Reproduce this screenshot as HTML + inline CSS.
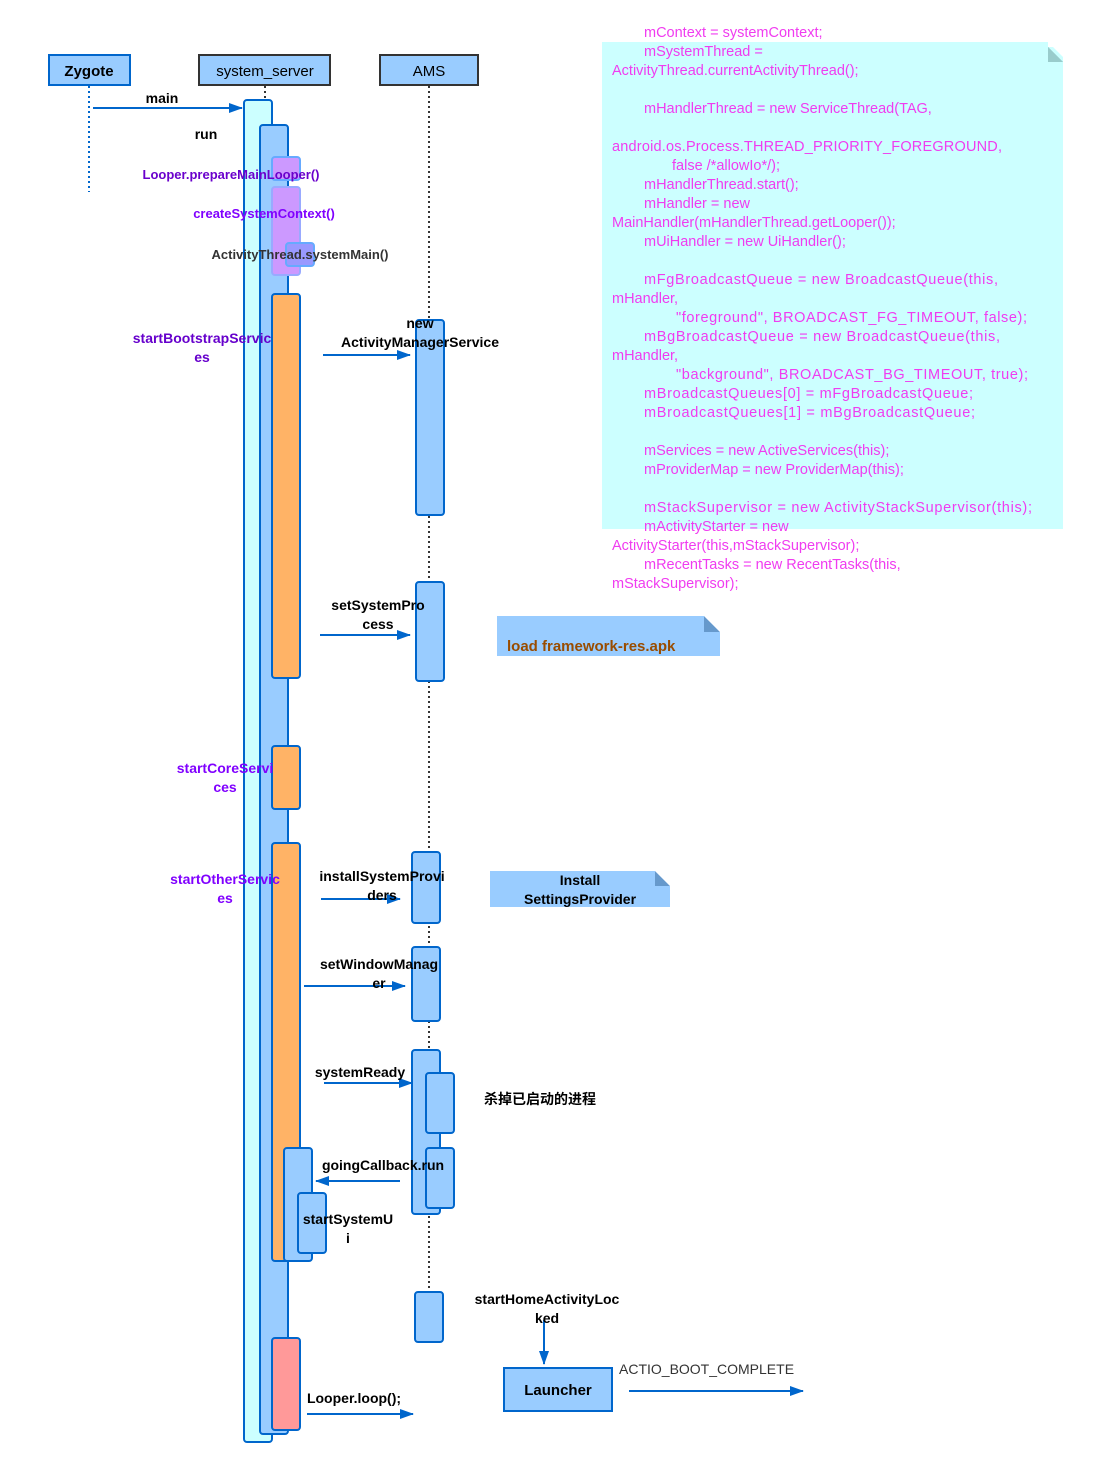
<!DOCTYPE html>
<html><head><meta charset="utf-8"><style>
html,body{margin:0;padding:0;background:#fff}
svg{display:block}
text{font-family:"Liberation Sans","Noto Sans CJK SC",sans-serif}
.b{font-weight:bold;font-size:14px;fill:#000}
.p{font-weight:bold;font-size:14px;fill:#7a00e6}
.c{font-size:14.5px;fill:#f03cf0}
</style></head><body>
<svg width="1095" height="1475" viewBox="0 0 1095 1475" xmlns="http://www.w3.org/2000/svg">
<defs>
<marker id="ar" markerWidth="14" markerHeight="10" refX="13" refY="5" orient="auto" markerUnits="userSpaceOnUse">
<path d="M0,0 L14,5 L0,10 Z" fill="#0066cc"/></marker>
</defs>
<!-- note -->
<rect x="602" y="42" width="461" height="487" fill="#ccffff"/>
<path d="M1048,47 L1063,62 L1048,62 Z" fill="#99cccc"/>
<rect x="1048" y="42" width="15" height="5" fill="#fff"/>
<path d="M1048,42 L1063,57 L1063,42 Z" fill="#fff"/>
<path d="M1048,47 L1048,62 L1063,62 Z" fill="#99cccc"/>
<g class="c">
<text x="644" y="37">mContext = systemContext;</text>
<text x="644" y="56">mSystemThread =</text>
<text x="612" y="75">ActivityThread.currentActivityThread();</text>
<text x="644" y="113">mHandlerThread = new ServiceThread(TAG,</text>
<text x="612" y="151" textLength="390">android.os.Process.THREAD_PRIORITY_FOREGROUND,</text>
<text x="672" y="170">false /*allowIo*/);</text>
<text x="644" y="189">mHandlerThread.start();</text>
<text x="644" y="208">mHandler = new</text>
<text x="612" y="227">MainHandler(mHandlerThread.getLooper());</text>
<text x="644" y="246">mUiHandler = new UiHandler();</text>
<text x="644" y="284" textLength="354">mFgBroadcastQueue = new BroadcastQueue(this,</text>
<text x="612" y="303">mHandler,</text>
<text x="676" y="322" textLength="351">"foreground", BROADCAST_FG_TIMEOUT, false);</text>
<text x="644" y="341" textLength="356">mBgBroadcastQueue = new BroadcastQueue(this,</text>
<text x="612" y="360">mHandler,</text>
<text x="676" y="379" textLength="352">"background", BROADCAST_BG_TIMEOUT, true);</text>
<text x="644" y="398" textLength="329">mBroadcastQueues[0] = mFgBroadcastQueue;</text>
<text x="644" y="417" textLength="331">mBroadcastQueues[1] = mBgBroadcastQueue;</text>
<text x="644" y="455">mServices = new ActiveServices(this);</text>
<text x="644" y="474">mProviderMap = new ProviderMap(this);</text>
<text x="644" y="512" textLength="388">mStackSupervisor = new ActivityStackSupervisor(this);</text>
<text x="644" y="531">mActivityStarter = new</text>
<text x="612" y="550">ActivityStarter(this,mStackSupervisor);</text>
<text x="644" y="569">mRecentTasks = new RecentTasks(this,</text>
<text x="612" y="588">mStackSupervisor);</text>
</g>
<!-- headers -->
<rect x="49" y="55" width="81" height="30" fill="#99ccff" stroke="#0066cc" stroke-width="2"/>
<text x="89" y="76" text-anchor="middle" class="b" style="font-size:15px">Zygote</text>
<rect x="199" y="55" width="131" height="30" fill="#99ccff" stroke="#333" stroke-width="2"/>
<text x="265" y="76" text-anchor="middle" style="font-size:15px">system_server</text>
<rect x="380" y="55" width="98" height="30" fill="#99ccff" stroke="#333" stroke-width="2"/>
<text x="429" y="76" text-anchor="middle" style="font-size:15px">AMS</text>
<!-- lifelines -->
<line x1="89" y1="86" x2="89" y2="192" stroke="#0066cc" stroke-width="2" stroke-dasharray="2,3"/>
<line x1="265" y1="86" x2="265" y2="100" stroke="#333" stroke-width="2" stroke-dasharray="2,3"/>
<line x1="429" y1="86" x2="429" y2="1292" stroke="#333" stroke-width="2" stroke-dasharray="2,3"/>
<!-- system_server activations -->
<rect x="244" y="100" width="28" height="1342" rx="3" fill="#ccffff" stroke="#0066cc" stroke-width="2"/>
<rect x="260" y="125" width="28" height="1309" rx="3" fill="#99ccff" stroke="#0066cc" stroke-width="2"/>
<rect x="272" y="157" width="28" height="23" rx="3" fill="#cc99ff" stroke="#66aaff" stroke-width="2"/>
<rect x="272" y="187" width="28" height="88" rx="3" fill="#cc99ff" stroke="#99aaff" stroke-width="2"/>
<rect x="286" y="243" width="28" height="23" rx="3" fill="#9999ff" stroke="#66aaff" stroke-width="2"/>
<rect x="272" y="294" width="28" height="384" rx="3" fill="#ffb366" stroke="#0066cc" stroke-width="2"/>
<rect x="272" y="746" width="28" height="63" rx="3" fill="#ffb366" stroke="#0066cc" stroke-width="2"/>
<rect x="272" y="843" width="28" height="418" rx="3" fill="#ffb366" stroke="#0066cc" stroke-width="2"/>
<rect x="284" y="1148" width="28" height="113" rx="3" fill="#99ccff" stroke="#0066cc" stroke-width="2"/>
<rect x="298" y="1193" width="28" height="60" rx="3" fill="#99ccff" stroke="#0066cc" stroke-width="2"/>
<rect x="272" y="1338" width="28" height="92" rx="3" fill="#ff9999" stroke="#0066cc" stroke-width="2"/>
<!-- AMS activations -->
<rect x="416" y="320" width="28" height="195" rx="3" fill="#99ccff" stroke="#0066cc" stroke-width="2"/>
<rect x="416" y="582" width="28" height="99" rx="3" fill="#99ccff" stroke="#0066cc" stroke-width="2"/>
<rect x="412" y="852" width="28" height="71" rx="3" fill="#99ccff" stroke="#0066cc" stroke-width="2"/>
<rect x="412" y="947" width="28" height="74" rx="3" fill="#99ccff" stroke="#0066cc" stroke-width="2"/>
<rect x="412" y="1050" width="28" height="164" rx="3" fill="#99ccff" stroke="#0066cc" stroke-width="2"/>
<rect x="426" y="1073" width="28" height="60" rx="3" fill="#99ccff" stroke="#0066cc" stroke-width="2"/>
<rect x="426" y="1148" width="28" height="60" rx="3" fill="#99ccff" stroke="#0066cc" stroke-width="2"/>
<rect x="415" y="1292" width="28" height="50" rx="3" fill="#99ccff" stroke="#0066cc" stroke-width="2"/>
<!-- Launcher -->
<rect x="504" y="1368" width="108" height="43" fill="#99ccff" stroke="#0066cc" stroke-width="2"/>
<text x="558" y="1395" text-anchor="middle" class="b" style="font-size:15px">Launcher</text>
<!-- notes -->
<rect x="497" y="616" width="223" height="40" fill="#99ccff"/>
<path d="M704,616 L720,632 L704,632 Z" fill="#6699cc"/>
<path d="M704,616 L720,616 L720,632 Z" fill="#fff"/>
<text x="507" y="651" class="b" style="fill:#994c00;font-size:15px">load framework-res.apk</text>
<rect x="490" y="871" width="180" height="36" fill="#99ccff"/>
<path d="M655,871 L670,886 L655,886 Z" fill="#6699cc"/>
<path d="M655,871 L670,871 L670,886 Z" fill="#fff"/>
<text x="580" y="885" text-anchor="middle" class="b">Install</text>
<text x="580" y="904" text-anchor="middle" class="b">SettingsProvider</text>
<!-- arrows -->
<g stroke="#0066cc" stroke-width="2" fill="none" marker-end="url(#ar)">
<line x1="93" y1="108" x2="242" y2="108"/>
<line x1="323" y1="355" x2="410" y2="355"/>
<line x1="320" y1="635" x2="410" y2="635"/>
<line x1="321" y1="899" x2="400" y2="899"/>
<line x1="304" y1="986" x2="405" y2="986"/>
<line x1="324" y1="1083" x2="412" y2="1083"/>
<line x1="400" y1="1181" x2="316" y2="1181"/>
<line x1="307" y1="1414" x2="413" y2="1414"/>
<line x1="544" y1="1320" x2="544" y2="1364"/>
<line x1="629" y1="1391" x2="803" y2="1391"/>
</g>
<!-- labels -->
<text x="162" y="103" text-anchor="middle" class="b">main</text>
<text x="206" y="139" text-anchor="middle" class="b">run</text>
<text x="231" y="179" text-anchor="middle" class="p" style="font-size:13px;fill:#6a00cc">Looper.prepareMainLooper()</text>
<text x="264" y="218" text-anchor="middle" class="p" style="font-size:13px;fill:#8000ff">createSystemContext()</text>
<text x="300" y="259" text-anchor="middle" class="b" style="font-size:13px;fill:#333">ActivityThread.systemMain()</text>
<text x="202" y="343" text-anchor="middle" class="p" style="fill:#6600cc">startBootstrapServic</text>
<text x="202" y="362" text-anchor="middle" class="p" style="fill:#6600cc">es</text>
<text x="420" y="328" text-anchor="middle" class="b">new</text>
<text x="420" y="347" text-anchor="middle" class="b">ActivityManagerService</text>
<text x="378" y="610" text-anchor="middle" class="b">setSystemPro</text>
<text x="378" y="629" text-anchor="middle" class="b">cess</text>
<text x="225" y="773" text-anchor="middle" class="p" style="fill:#8000ff">startCoreServi</text>
<text x="225" y="792" text-anchor="middle" class="p" style="fill:#8000ff">ces</text>
<text x="225" y="884" text-anchor="middle" class="p" style="fill:#8000ff">startOtherServic</text>
<text x="225" y="903" text-anchor="middle" class="p" style="fill:#8000ff">es</text>
<text x="382" y="881" text-anchor="middle" class="b">installSystemProvi</text>
<text x="382" y="900" text-anchor="middle" class="b">ders</text>
<text x="379" y="969" text-anchor="middle" class="b">setWindowManag</text>
<text x="379" y="988" text-anchor="middle" class="b">er</text>
<text x="360" y="1077" text-anchor="middle" class="b">systemReady</text>
<text x="540" y="1104" text-anchor="middle" class="b">杀掉已启动的进程</text>
<text x="383" y="1170" text-anchor="middle" class="b">goingCallback.run</text>
<text x="348" y="1224" text-anchor="middle" class="b">startSystemU</text>
<text x="348" y="1243" text-anchor="middle" class="b">i</text>
<text x="547" y="1304" text-anchor="middle" class="b">startHomeActivityLoc</text>
<text x="547" y="1323" text-anchor="middle" class="b">ked</text>
<text x="354" y="1403" text-anchor="middle" class="b">Looper.loop();</text>
<text x="619" y="1374" style="font-size:14px;fill:#333">ACTIO_BOOT_COMPLETE</text>
</svg>
</body></html>
